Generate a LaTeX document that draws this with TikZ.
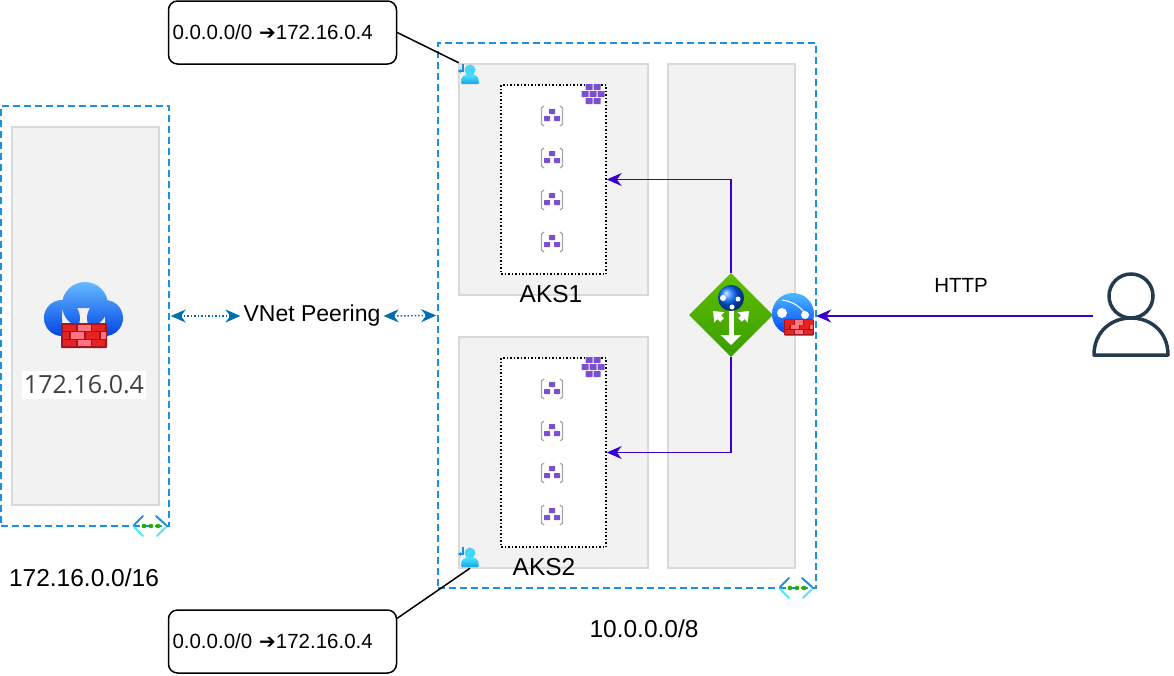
\documentclass[tikz,border=0pt]{standalone}
\usepackage{xcolor}
\usepackage{fontspec}
\setmainfont{Liberation Sans}
\newfontfamily\symfont{DejaVu Sans}
\newfontfamily\ipfont{Open Sans}
\usetikzlibrary{positioning, arrows.meta, calc, shapes.geometric}
\definecolor{vnetblue}{HTML}{1B8FE0}
\definecolor{vnetcyan}{HTML}{50E6FF}
\definecolor{panelgrey}{HTML}{F2F2F2}
\definecolor{panelline}{HTML}{D9D9D9}
\definecolor{flowblue}{HTML}{3700CC}
\definecolor{peerblue}{HTML}{006EAF}
\definecolor{podpurple}{HTML}{7B4FD0}
\definecolor{usernavy}{HTML}{243A4E}
\definecolor{brickdark}{HTML}{A01722}
\definecolor{brickred}{HTML}{E62323}
\definecolor{brickpink}{HTML}{FF7381}
\newcommand{\pxfont}[1]{\fontsize{#1}{#1}\selectfont}
\tikzset{
  vnetbox/.style={draw=vnetblue, dashed, dash pattern=on 7pt off 4pt, line width=1.5pt, inner sep=0pt},
  panel/.style={fill=panelgrey, draw=panelline, line width=1.5pt, inner sep=0pt},
  poolbox/.style={draw=black, fill=white, dotted, line width=1.5pt, inner sep=0pt, minimum width=105pt, minimum height=189pt},
  routebox/.style={draw=black, line width=1.5pt, rounded corners=9pt, inner sep=4pt, text width=220pt, align=left, minimum height=63pt, font=\pxfont{20.5}},
  iconspot/.style={inner sep=0pt, minimum size=#1},
  label/.style={inner sep=0pt, font=\pxfont{24.5}},
  flow/.style={draw=flowblue, line width=1.5pt, -{Stealth[length=15pt, width=13pt]}},
  peer/.style={draw=peerblue, dotted, line width=1.5pt, {Stealth[length=15pt, width=13pt]}-{Stealth[length=15pt, width=13pt]}, shorten >=2pt, shorten <=1pt},
  firewall/.pic={
    \fill[brickdark, rounded corners=1pt] (-23,-12.5) rectangle (23,12.5);
    \foreach \bx/\by/\bw/\bc in {-21/-11/13/brickred, -6.5/-11/13/brickpink, 8/-11/13/brickred,
                                 -21/-3.5/6/brickred, -13/-3.5/13/brickpink, 2/-3.5/13/brickred, 17/-3.5/5/brickpink,
                                 -21/4/13/brickred, -6.5/4/13/brickpink, 8/4/13/brickred}
      \fill[\bc] (\bx,\by) rectangle ++(\bw,6.5);
  },
  podicon/.pic={
    \draw[black!35, line width=1.2pt] (-8,-10) -- (-10.5,-8) -- (-10.5,8) -- (-8,10);
    \draw[black!35, line width=1.2pt] (8,-10) -- (10.5,-8) -- (10.5,8) -- (8,10);
    \foreach \hx/\hy in {0/-4.5, -5/2.5, 5/2.5}
      \fill[podpurple, rounded corners=.5pt] (\hx-3,\hy-2.5) rectangle (\hx+3,\hy+2.5);
  },
  clustericon/.pic={
    \foreach \hx/\hy in {-4/-7, 4/-7, -8/0, 0/0, 8/0, -4/7, 4/7}
      \fill[podpurple, rounded corners=.5pt] (\hx-3.5,\hy-3) rectangle (\hx+3.5,\hy+3);
  },
  identicon/.pic={
    \shade[top color=vnetcyan, bottom color=vnetblue!80!cyan, rounded corners=1pt] (-9,10) -- (-8,3) -- (-3,0) -- (3,0) -- (8,3) -- (9,10) -- cycle;
    \fill[vnetcyan!80!vnetblue] (0,-4) circle (5.5);
    \draw[vnetblue, line width=1.3pt, -{Stealth[length=3pt, width=4pt]}] (-7,-10) -- (-7,-3) -- (-12,-3);
  },
  vneticon/.pic={
    \draw[vnetblue, line width=2pt, line cap=round] (-8,-10) -- (-17,-1);
    \draw[vnetblue, line width=2pt, line cap=round] (5,-10) -- (15,-1);
    \draw[vnetcyan, line width=2pt, line cap=round] (-17,1) -- (-8,10);
    \draw[vnetcyan, line width=2pt, line cap=round] (15,1) -- (6,10);
    \foreach \dx in {-7,0,7}
      \fill[green!60!black!80!lime] (\dx,0) circle (2.3);
  }
}

\begin{document}
\begin{tikzpicture}[x=1pt, y=-1pt]
    \useasboundingbox (0,0) rectangle (1174,675);

    \node[vnetbox, minimum width=168pt, minimum height=420pt] (hubvnet) at (85,316) {};
    \node[panel, minimum width=147pt, minimum height=378pt] (hubpanel) at (85.5,316) {};
    \node[vnetbox, minimum width=378pt, minimum height=545pt] (spokevnet) at (627,315.5) {};
    \node[panel, minimum width=189pt, minimum height=231pt] (aks1panel) at (553.5,179.5) {};
    \node[panel, minimum width=189pt, minimum height=231pt] (aks2panel) at (553.5,452.5) {};
    \node[panel, minimum width=127pt, minimum height=504pt] (gwpanel) at (731.5,316) {};
    \node[poolbox] (pool1) at (553.5,179.5) {};
    \node[poolbox] (pool2) at (553.5,452.5) {};

    \foreach \py in {116,158,200,242,389,431,473,515}
      \pic at (552,\py) {podicon};
    \pic at (593,94) {clustericon};
    \pic at (593,367) {clustericon};

    \node[iconspot=22pt] (ident1) at (470,74) {};
    \node[iconspot=22pt] (ident2) at (470,557) {};
    \pic at (ident1) {identicon};
    \pic at (ident2) {identicon};
    \pic at (151,526) {vneticon};
    \pic at (797,588) {vneticon};

    \node[routebox] (route1) at (282.5,32.5) {0.0.0.0/0 {\symfont\pxfont{20}➔}172.16.0.4};
    \node[routebox] (route2) at (282.5,641.5) {0.0.0.0/0 {\symfont\pxfont{20}➔}172.16.0.4};
    \draw[line width=1.5pt] (route1.east) -- (ident1.north west);
    \draw[line width=1.5pt] (route2.north east) ++(0,9) -- (ident2.south);

    \shade[top color=blue!45!cyan!60!white, bottom color=blue!70!cyan!90!black] (85,305) circle (23) (62,318) circle (18) (105,318) circle (18) (62,308) rectangle (105,336);
    \pic[scale=1] at (84,335.5) {firewall};
    \node[fill=white, inner xsep=2pt, inner ysep=5pt, text=black!75, font=\ipfont\pxfont{25}] (hubip) at (84,385) {172.16.0.4};

    \node[diamond, inner sep=0pt, minimum width=84pt, minimum height=84pt, shading=axis, top color=green!50!black!50!lime, bottom color=green!45!black!70!lime] (appgw) at (731,315) {};
    \foreach \ax/\ay in {722/320, 740/320}
      \draw[white, line width=5pt, -{Triangle[length=9pt, width=14pt]}] (\ax,\ay) -- (\ax+2*\ax-2*731-\ax+731,\ay-9);
    \draw[white, line width=5pt, -{Triangle[length=10pt, width=20pt]}] (731,310) -- (731,345);
    \shade[ball color=blue!60!cyan] (731,298) circle (13);
    \fill[white] (723,298) circle (3) (738,299) circle (2.5) (732,307) circle (2.5);

    \node[iconspot=46pt] (waf) at (793,316) {};
    \shade[top color=blue!40!cyan!70!white, bottom color=blue!75!cyan] (793,314) circle (21);
    \fill[white] (782,313) circle (5) (805,315) circle (4);
    \draw[white, line width=1pt] (782,300) to[bend left=20] (804,312);
    \pic[scale=.65] at (799,327.5) {firewall};

    \node[iconspot=76pt] (client) at (1131,316) {};
    \draw[usernavy, line width=3.5pt] (1131,296) circle (22);
    \draw[usernavy, line width=3.5pt, line join=round] (1094,355) .. controls (1094,331) and (1112,318) .. (1131,318) .. controls (1150,318) and (1168,331) .. (1168,355) -- cycle;

    \draw[flow] (appgw.north) |- (pool1.east);
    \draw[flow] (appgw.south) |- (pool2.east);
    \draw[flow] (client.west) -- (waf.east);

    \node[fill=white, inner xsep=1pt, inner ysep=2pt, font=\pxfont{23}] (peerlabel) at (312,316) {VNet Peering};
    \begin{scope}[on background layer/.try]
    \end{scope}
    \draw[peer] (hubvnet.east) -- (peerlabel.west);
    \draw[peer] (spokevnet.west) -- (peerlabel.east);

    \node[inner sep=0pt, font=\pxfont{20.5}] (httplabel) at (961,285) {HTTP};
    \node[label] (aks1label) at (551,294) {AKS1};
    \node[label] (aks2label) at (544,567) {AKS2};
    \node[label] (hubcidr) at (84,578) {172.16.0.0/16};
    \node[label] (spokecidr) at (644,629) {10.0.0.0/8};
\end{tikzpicture}
\end{document}
